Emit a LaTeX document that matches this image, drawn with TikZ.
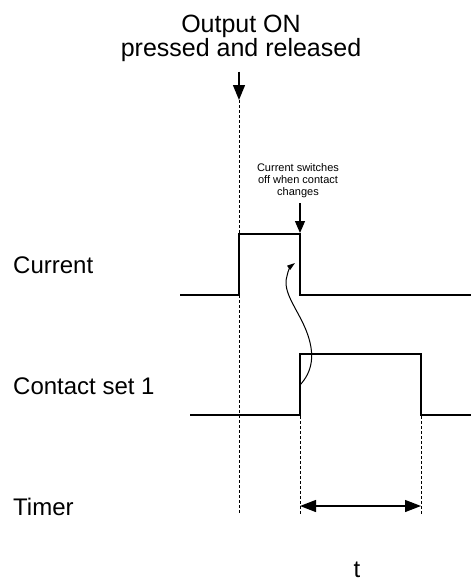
\documentclass[tikz,border=0pt]{standalone}
\usepackage{fontspec}
\setmainfont{Liberation Sans}
\usetikzlibrary{arrows.meta}
\begin{document}
\begin{tikzpicture}[x=1pt,y=-1pt,
  wave/.style={line width=1.3pt, line join=miter},
  guide/.style={line width=1pt, dash pattern=on 3pt off 2pt},
  bigarrow/.style={line width=1.3pt, -{Triangle[length=15pt,width=12pt]}},
  midarrow/.style={line width=1.3pt, -{Triangle[length=12pt,width=10pt]}},
  lbl/.style={font=\fontsize{24}{26}\selectfont, anchor=west, inner sep=0pt},
  note/.style={font=\fontsize{11}{12}\selectfont, align=center, inner sep=0pt}]
\useasboundingbox (0,0) rectangle (471,582);

% texts
\node[font=\fontsize{25}{24}\selectfont, align=center, inner sep=0pt] (title) at (241,38) {Output ON\\pressed and released};
\node[note] (note) at (298,181) {Current switches\\off when contact\\changes};
\node[lbl] (lcur) at (13,265) {Current};
\node[lbl] (lcon) at (13,386) {Contact set 1};
\node[lbl] (ltim) at (13,507) {Timer};
\node[font=\fontsize{24}{26}\selectfont, anchor=base, inner sep=0pt] (tlab) at (357,577) {t};

% key coordinates
\coordinate (press) at (239,100);
\coordinate (off) at (300,233);
\coordinate (c1) at (300,385);
\coordinate (c2) at (295,263);
\coordinate (t1) at (300,506);
\coordinate (t2) at (421,506);

% waveforms
\draw[wave] (180,295) -- (239,295) -- (239,234) -- (300,234) -- (300,295) -- (471,295);
\draw[wave] (190,415) -- (300,415) -- (300,354) -- (421,354) -- (421,415) -- (471,415);

% guides
\draw[guide] (press) -- (239,513);
\draw[guide] (300,416) -- (300,515);
\draw[guide] (421,416) -- (421,515);

% arrows
\draw[bigarrow] ([yshift=-10pt]title.south -| press) -- (press);
\draw[midarrow] ([yshift=-5pt]note.south -| off) -- (off);
\draw[line width=1.3pt, {Triangle[length=16pt,width=12pt]}-{Triangle[length=16pt,width=12pt]}] (t1) -- (t2);
\draw[line width=1pt, -{Triangle[length=8pt,width=5pt]}] (c1) .. controls (312,372) and (316,355) .. (306,330) .. controls (297,308) and (282,292) .. (287,276) .. controls (288,270) and (291,266) .. (c2);
\end{tikzpicture}
\end{document}
